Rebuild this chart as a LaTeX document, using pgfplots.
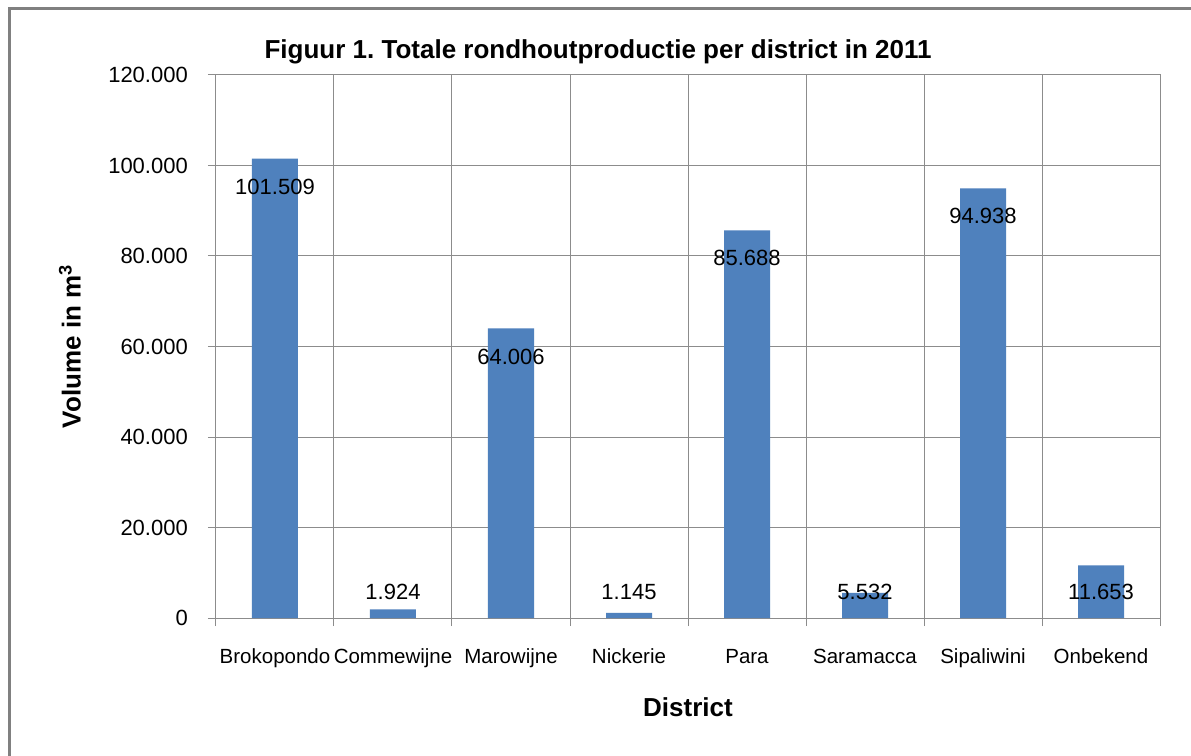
\documentclass[border=0pt]{standalone}
\usepackage{pgfplots}
\pgfplotsset{compat=1.18}
\usepackage{fontspec}
\setmainfont{Liberation Sans}
\frenchspacing
\definecolor{barblue}{HTML}{4F81BD}
\definecolor{gridgray}{HTML}{8C8C8C}
\pgfplotstableread{
x val
0 101509
1 1924
2 64006
3 1145
4 85688
5 5532
6 94938
7 11653
}\bardata
\pgfplotstableread{
x ypos label
0 95320 101.509
1 5750 1.924
2 57800 64.006
3 5750 1.145
4 79500 85.688
5 5750 5.532
6 88750 94.938
7 5750 11.653
}\labeldata
\begin{document}
\begin{tikzpicture}
\useasboundingbox (-216pt,-137pt) rectangle (975pt,618pt);
\fill[white] (-216pt,-137pt) rectangle (975pt,618pt);
\draw[line width=3pt, color=gray] (-206pt,-145pt) -- (-206pt,609pt) -- (985pt,609pt);
\begin{axis}[
  at={(0pt,0pt)}, anchor=south west,
  scale only axis, width=944pt, height=543pt,
  xmin=-0.5, xmax=7.5, ymin=0, ymax=120000,
  xtick={-0.5,0.5,...,7.5}, xticklabels={},
  extra x ticks={0,1,2,3,4,5,6,7},
  extra x tick labels={Brokopondo,Commewijne,Marowijne,Nickerie,Para,Saramacca,Sipaliwini,Onbekend},
  extra x tick style={grid=none, major tick length=0pt},
  ytick={0,20000,40000,60000,80000,100000,120000},
  scaled y ticks=false,
  yticklabel={\pgfmathprintnumber[fixed, precision=0, 1000 sep={.}, assume math mode=true]{\tick}},
  xmajorgrids=true, ymajorgrids=true,
  tick pos=left,
  tick align=outside, major tick length=8pt,
  axis line style={gridgray, line width=1pt},
  grid style={gridgray, line width=1pt},
  tick style={gridgray, line width=1pt},
  xticklabel style={font=\fontsize{20.5}{24}\selectfont, anchor=base, yshift=-45pt},
  yticklabel style={font=\fontsize{22}{26}\selectfont, anchor=east, inner sep=0pt, xshift=-20pt},
  title={Figuur 1. Totale rondhoutproductie per district in 2011},
  title style={at={(axis description cs:0.4047,1)}, anchor=center, yshift=17pt, font=\fontsize{26}{30}\selectfont\bfseries},
  xlabel={District},
  xlabel style={at={(axis description cs:0.5,0)}, anchor=center, yshift=-89pt, font=\fontsize{26}{30}\selectfont\bfseries},
  ylabel={Volume in m\textsuperscript{3}},
  ylabel style={at={(axis description cs:-0.1547,0.5)}, anchor=center, font=\fontsize{26}{30}\selectfont\bfseries},
]
\addplot[ybar, bar width=46pt, fill=barblue, draw=none] table[x=x, y=val] {\bardata};
\addplot[draw=none, mark=none, nodes near coords, point meta=explicit symbolic,
  every node near coord/.style={anchor=center, font=\fontsize{22}{26}\selectfont, text=black}]
  table[x=x, y=ypos, meta=label] {\labeldata};
\end{axis}
\end{tikzpicture}
\end{document}
